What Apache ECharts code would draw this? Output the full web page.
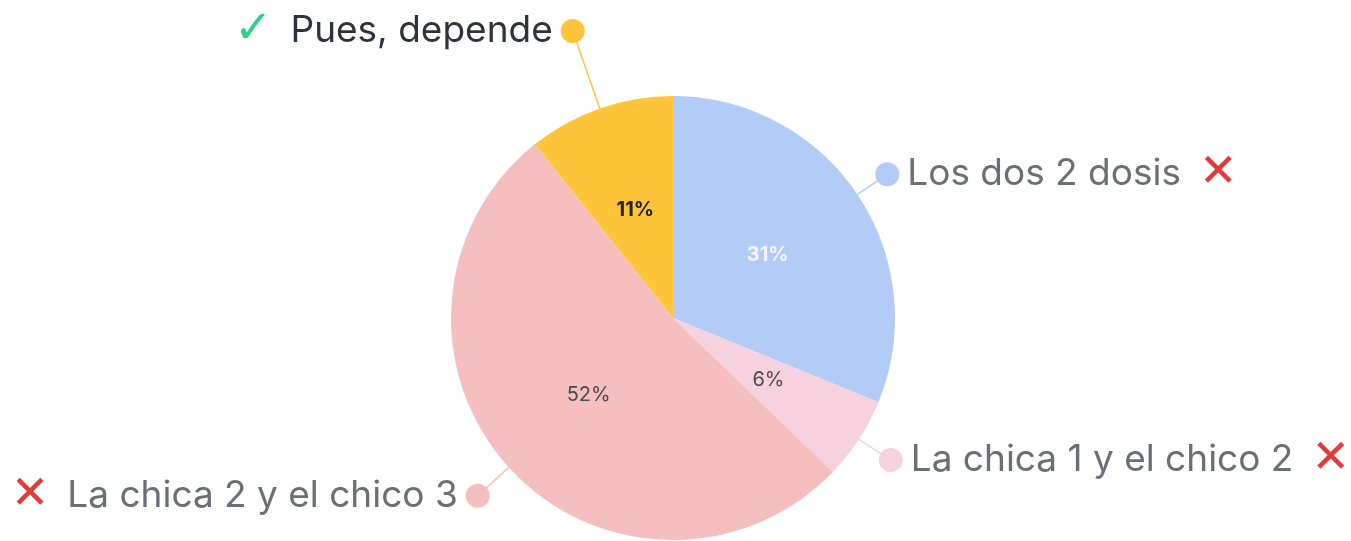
<!DOCTYPE html>
<html>
<head>
<meta charset="utf-8">
<style>
  html, body { margin: 0; padding: 0; background: #fff; }
  #main { width: 1351px; height: 541px; }
</style>
<script src="https://cdn.jsdelivr.net/npm/echarts@6/dist/echarts.min.js"></script>
</head>
<body>
<div id="main"></div>
<script>
var chart = echarts.init(document.getElementById('main'))

// respuestas, porcentaje de votos y si es la correcta
var names = ['Los dos 2 dosis', 'La chica 1 y el chico 2', 'La chica 2 y el chico 3', 'Pues, depende']
var values = [31.2, 6.0, 52.1, 10.7]
var correct = [false, false, false, true]

var colors = ['#b3cbf7', '#f6d2de', '#f5bfbf', '#ffc53a']
var inColors = ['#f4f7fe', '#4a4a4a', '#4a4a4a', '#222222']
var inWeights = ['bold', 'normal', 'normal', 'bold']
var lineLen = [36, 38, 42, 82]
var font = 'Inter, "Noto Sans", sans-serif'

var outerData = [], innerData = []
for (var i = 0; i < names.length; i++) {
    var mark = correct[i] ? '{ok|✓}' : '{no|✕}'
    var right = i < 2
    var fmt = right
        ? '{dot|}{name|' + names[i] + '}' + mark
        : mark + '{name|' + names[i] + '}{dot|}'
    outerData.push({
        name: names[i],
        value: values[i],
        itemStyle: { color: colors[i] },
        labelLine: { length: lineLen[i], length2: 0, lineStyle: { color: colors[i], width: 1.5 } },
        label: {
            formatter: fmt,
            rich: {
                dot: { width: 24, height: 24, borderRadius: 12, backgroundColor: colors[i] },
                name: {
                    fontFamily: font, fontSize: 37, lineHeight: 44,
                    color: correct[i] ? '#2d323c' : '#6a6e75',
                    padding: right ? [0, 0, 0, 8] : [0, 8, 0, 0]
                },
                no: { fontFamily: 'DejaVu Sans', fontSize: 46, lineHeight: 44, color: '#e03c3c', padding: right ? [0, 0, 0, 18] : [0, 18, 0, 0] },
                ok: { fontFamily: 'DejaVu Sans', fontSize: 46, lineHeight: 44, color: '#2fd08c', padding: [0, 18, 0, 0] }
            }
        }
    })
    innerData.push({
        name: names[i],
        value: values[i],
        label: { color: inColors[i], fontWeight: inWeights[i] }
    })
}

var option = {
    animation: false,
    series: [{
        type: 'pie',
        center: [673, 318],
        radius: 222,
        startAngle: 90,
        clockwise: true,
        silent: true,
        avoidLabelOverlap: false,
        label: {
            position: 'outside',
            distanceToLabelLine: -12,
            bleedMargin: 0
        },
        data: outerData
    }, {
        type: 'pie',
        center: [673, 318],
        radius: 222,
        startAngle: 90,
        clockwise: true,
        silent: true,
        itemStyle: { color: 'transparent' },
        labelLine: { show: false },
        label: {
            position: 'inside',
            fontFamily: font,
            fontSize: 20,
            formatter: function (p) { return Math.round(p.percent) + '%' }
        },
        data: innerData
    }]
}

chart.setOption(option)
</script>
</body>
</html>
